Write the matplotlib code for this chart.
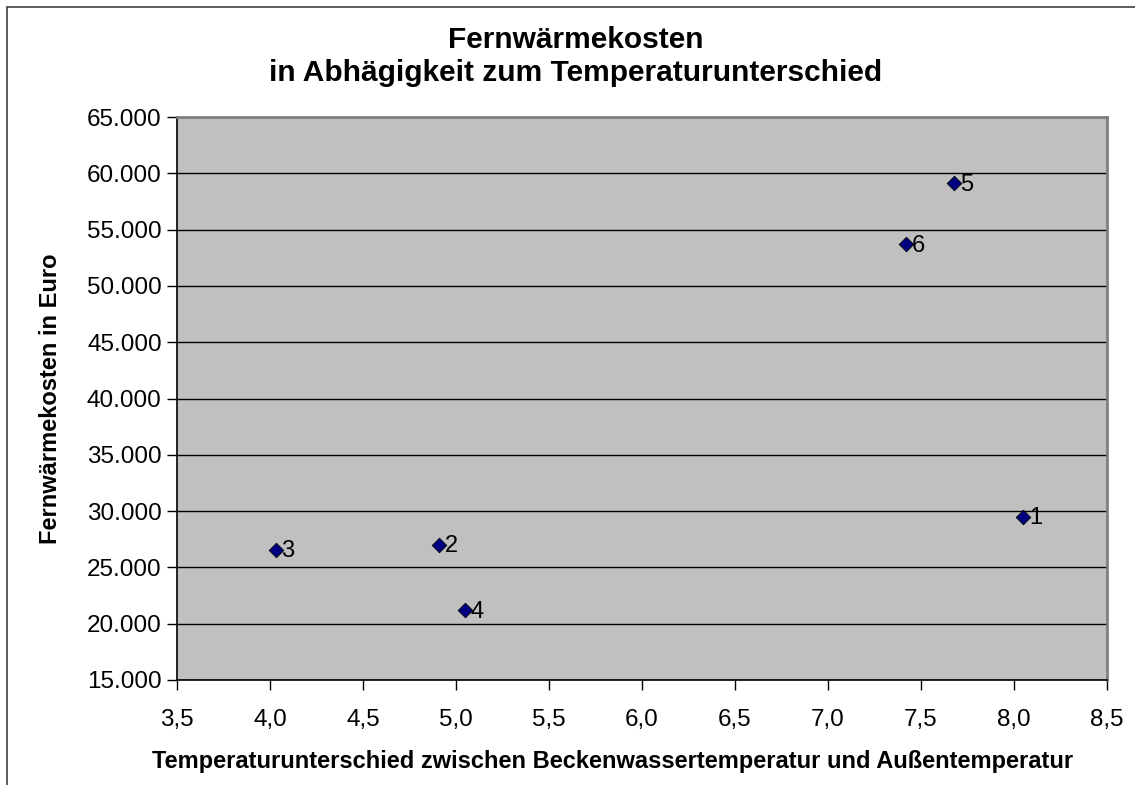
import matplotlib.pyplot as plt
from matplotlib.patches import Rectangle
from matplotlib.ticker import FuncFormatter

plt.rcParams['font.family'] = ['Liberation Sans', 'DejaVu Sans']

# Daten
temp_diff = [8.05, 4.91, 4.03, 5.05, 7.68, 7.42]
kosten = [29500, 27000, 26550, 21200, 59100, 53700]
punkt_labels = ['1', '2', '3', '4', '5', '6']
x_ticks = [3.5, 4.0, 4.5, 5.0, 5.5, 6.0, 6.5, 7.0, 7.5, 8.0, 8.5]
y_ticks = [15000, 20000, 25000, 30000, 35000, 40000, 45000, 50000, 55000, 60000, 65000]

fig = plt.figure(figsize=(11.35, 7.85), dpi=100)
fig.patch.set_facecolor('white')

# Rahmen um das Diagramm
W, H = 1135, 785
fig.add_artist(Rectangle((7 / W, -0.05), 1.2, (785 - 7) / H + 0.05,
                         transform=fig.transFigure, fill=False,
                         edgecolor='#404040', linewidth=1.2))

ax = fig.add_axes([177 / W, 105 / H, 930 / W, 563 / H])
ax.set_facecolor('#C0C0C0')

ax.scatter(temp_diff, kosten, marker='D', s=55, color='#000080',
           edgecolors='black', linewidths=0.6, zorder=3)
for x, y, lab in zip(temp_diff, kosten, punkt_labels):
    ax.annotate(lab, (x, y), xytext=(4, -1), textcoords='offset points',
                va='center', ha='left', fontsize=17, zorder=4)

ax.set_xlim(3.5, 8.5)
ax.set_ylim(15000, 65000)
ax.set_xticks(x_ticks)
ax.set_yticks(y_ticks)
ax.xaxis.set_major_formatter(FuncFormatter(lambda v, p: f'{v:.1f}'.replace('.', ',')))
ax.yaxis.set_major_formatter(FuncFormatter(lambda v, p: f'{int(v):,}'.replace(',', '.')))
ax.tick_params(axis='both', labelsize=17.5, direction='out', length=7, width=1, color='black')
ax.tick_params(axis='x', pad=14)
ax.tick_params(axis='y', pad=4)

ax.grid(axis='y', color='black', linewidth=1, zorder=1)
ax.set_axisbelow(True)

for side in ['left', 'bottom']:
    ax.spines[side].set_color('black')
    ax.spines[side].set_linewidth(1.2)
for side in ['top', 'right']:
    ax.spines[side].set_color('#808080')
    ax.spines[side].set_linewidth(2)

ax.set_xlabel('Temperaturunterschied zwischen Beckenwassertemperatur und Außentemperatur',
              fontsize=17, fontweight='bold', labelpad=13)
ax.xaxis.set_label_coords(0.468, -0.125)
ax.set_ylabel('Fernwärmekosten in Euro', fontsize=17, fontweight='bold', labelpad=18)

fig.text(0.5075, 0.928, 'Fernwärmekosten\nin Abhägigkeit zum Temperaturunterschied',
         ha='center', va='center', fontsize=21.5, fontweight='bold', linespacing=1.2)

fig.savefig('out.png', dpi=100)
